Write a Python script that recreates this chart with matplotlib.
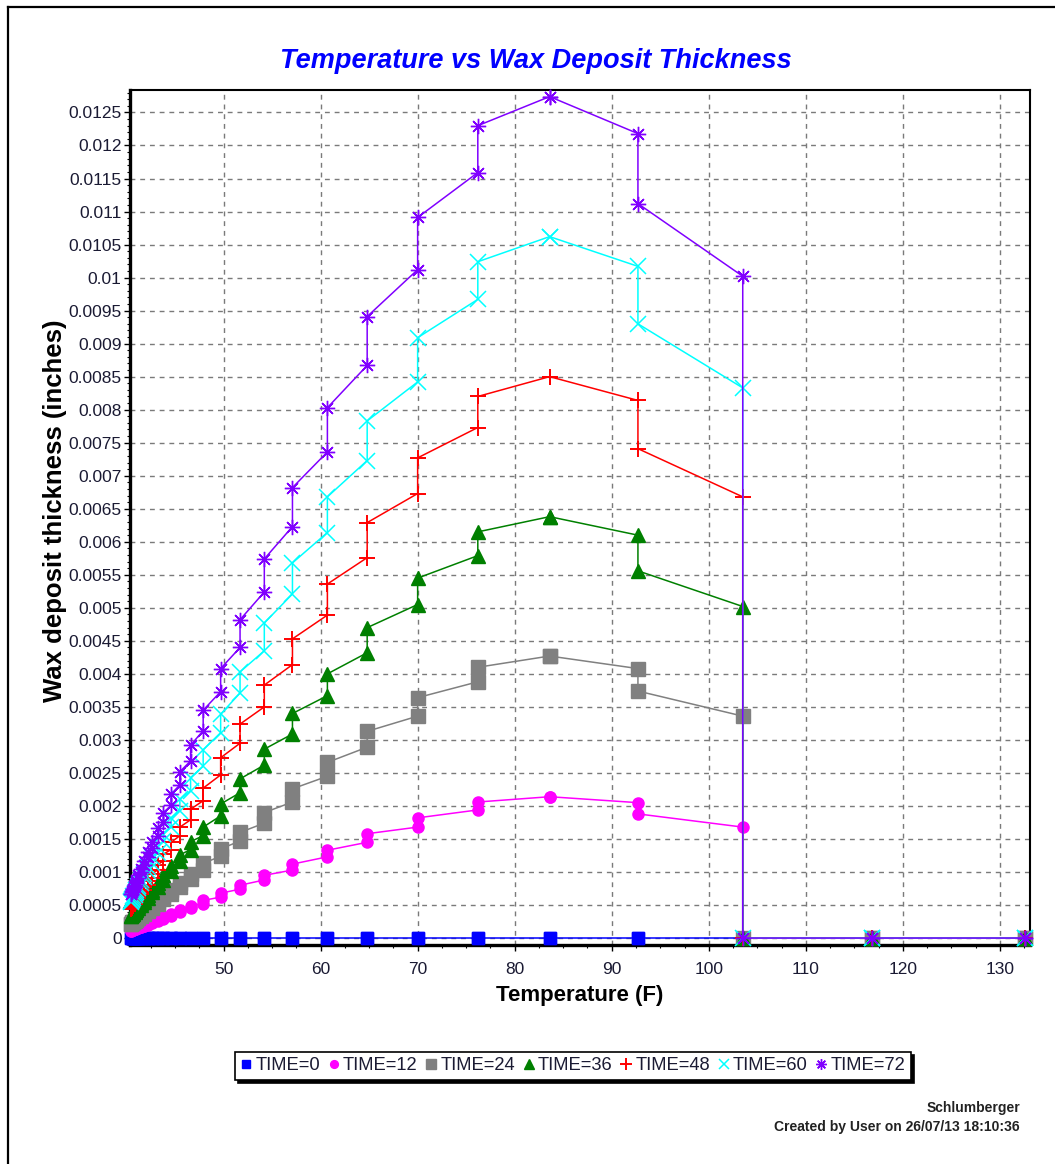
import numpy as np
import matplotlib
matplotlib.use('Agg')
import matplotlib.pyplot as plt
from matplotlib.ticker import MultipleLocator, FuncFormatter
from matplotlib.lines import Line2D

BASE = ['Liberation Sans', 'DejaVu Sans']
plt.rcParams['font.family'] = BASE

# ---------------- data ----------------
temps = [40.45, 40.55, 40.7, 40.85, 41.0, 41.2, 41.5, 41.8, 42.2, 42.6, 43.2, 43.8,
         44.6, 45.5, 46.6, 47.9, 49.7, 51.7, 54.2, 57.1, 60.7, 64.8, 70.0, 76.2,
         83.6, 92.7, 103.5, 116.8, 132.6]

labels = ['TIME=0', 'TIME=12', 'TIME=24', 'TIME=36', 'TIME=48', 'TIME=60', 'TIME=72']

t0_a = [0.0] * 29
t0_b = [0.0] * 29

t12_a = [0.00011, 0.000115, 0.00012, 0.00013, 0.00014, 0.00015, 0.00017, 0.00018, 0.00020,
         0.00023, 0.00026, 0.00029, 0.00034, 0.00039, 0.00045, 0.00052, 0.00062, 0.00074,
         0.00088, 0.00103, 0.00123, 0.00145, 0.00168, 0.00194, 0.00214, 0.00205, 0.00168, 0, 0]
t12_b = [0.00011, 0.00012, 0.000125, 0.000135, 0.000145, 0.00016, 0.000175, 0.00019, 0.00022,
         0.00024, 0.00028, 0.00032, 0.00036, 0.00042, 0.00049, 0.00057, 0.00068, 0.00080,
         0.00095, 0.00112, 0.00133, 0.00158, 0.00182, 0.00206, 0.00214, 0.00188, 0, 0, 0]

t24_a = [0.00022, 0.00023, 0.00024, 0.00026, 0.00028, 0.00030, 0.00033, 0.00037, 0.00041,
         0.00046, 0.00052, 0.00059, 0.00067, 0.00077, 0.00089, 0.00103, 0.00124, 0.00147,
         0.00174, 0.00206, 0.00245, 0.00289, 0.00336, 0.00388, 0.00427, 0.00408, 0.00336, 0, 0]
t24_b = [0.00022, 0.00024, 0.00025, 0.00027, 0.00029, 0.00032, 0.00035, 0.00039, 0.00043,
         0.00049, 0.00055, 0.00063, 0.00073, 0.00084, 0.00097, 0.00113, 0.00135, 0.00160,
         0.00190, 0.00226, 0.00266, 0.00313, 0.00364, 0.00410, 0.00427, 0.00374, 0, 0, 0]

t36_a = [0.00033, 0.00035, 0.00037, 0.00039, 0.00042, 0.00046, 0.00050, 0.00055, 0.00061,
         0.00069, 0.00078, 0.00088, 0.00101, 0.00116, 0.00134, 0.00155, 0.00185, 0.00220,
         0.00262, 0.00309, 0.00367, 0.00432, 0.00505, 0.00579, 0.00638, 0.00610, 0.00502, 0, 0]
t36_b = [0.00034, 0.00036, 0.00038, 0.00041, 0.00044, 0.00048, 0.00053, 0.00058, 0.00065,
         0.00073, 0.00083, 0.00095, 0.00109, 0.00126, 0.00146, 0.00168, 0.00203, 0.00241,
         0.00286, 0.00340, 0.00400, 0.00470, 0.00545, 0.00615, 0.00638, 0.00556, 0, 0, 0]

t48_a = [0.00044, 0.00046, 0.00049, 0.00052, 0.00056, 0.00061, 0.00067, 0.00073, 0.00081,
         0.00091, 0.00103, 0.00117, 0.00134, 0.00155, 0.00179, 0.00208, 0.00247, 0.00295,
         0.00350, 0.00414, 0.00489, 0.00576, 0.00673, 0.00773, 0.00850, 0.00814, 0.00668, 0, 0]
t48_b = [0.00045, 0.00047, 0.00050, 0.00054, 0.00058, 0.00063, 0.00070, 0.00077, 0.00087,
         0.00097, 0.00111, 0.00127, 0.00145, 0.00168, 0.00195, 0.00227, 0.00273, 0.00324,
         0.00383, 0.00453, 0.00536, 0.00629, 0.00727, 0.00820, 0.00850, 0.00741, 0, 0, 0]

t60_a = [0.00055, 0.00058, 0.00061, 0.00065, 0.00070, 0.00076, 0.00083, 0.00092, 0.00102,
         0.00114, 0.00129, 0.00147, 0.00168, 0.00193, 0.00223, 0.00260, 0.00311, 0.00371,
         0.00435, 0.00521, 0.00614, 0.00723, 0.00842, 0.00967, 0.01062, 0.01017, 0.00833, 0, 0]
t60_b = [0.00056, 0.00059, 0.00063, 0.00068, 0.00073, 0.00079, 0.00088, 0.00097, 0.00108,
         0.00122, 0.00138, 0.00158, 0.00182, 0.00210, 0.00243, 0.00285, 0.00339, 0.00403,
         0.00477, 0.00568, 0.00668, 0.00783, 0.00909, 0.01024, 0.01062, 0.00930, 0, 0, 0]

t72_a = [0.00066, 0.00069, 0.00073, 0.00078, 0.00084, 0.00091, 0.00100, 0.00110, 0.00122,
         0.00137, 0.00155, 0.00176, 0.00201, 0.00232, 0.00268, 0.00314, 0.00373, 0.00440,
         0.00524, 0.00623, 0.00736, 0.00867, 0.01012, 0.01159, 0.01274, 0.01218, 0.01002, 0, 0]
t72_b = [0.00067, 0.00071, 0.00075, 0.00081, 0.00087, 0.00095, 0.00105, 0.00116, 0.00130,
         0.00146, 0.00166, 0.00190, 0.00218, 0.00252, 0.00292, 0.00345, 0.00408, 0.00482,
         0.00574, 0.00682, 0.00803, 0.00941, 0.01091, 0.01230, 0.01274, 0.01112, 0, 0, 0]

series_a = [t0_a, t12_a, t24_a, t36_a, t48_a, t60_a, t72_a]
series_b = [t0_b, t12_b, t24_b, t36_b, t48_b, t60_b, t72_b]

# ---------------- styles ----------------
colors = ['#0000ff', '#ff00ff', '#808080', '#008000', '#ff0000', '#00ffff', '#8000ff']
markers = ['s', 'o', 's', '^', '+', 'x', (8, 2, 0)]
msizes = [8.6, 8.0, 9.5, 9.5, 12, 11, 11]
mews = [1, 1, 1, 1, 1.4, 1.1, 1.0]

W, H = 1055, 1164
fig = plt.figure(figsize=(W / 100, H / 100), dpi=100)
ax = fig.add_axes([130 / W, 1 - 945 / H, 900 / W, 855 / H])

x_path = np.repeat(np.array(temps), 2)
handles = []
for i in range(7):
    y_path = np.column_stack([series_a[i], series_b[i]]).ravel()
    ax.plot(x_path, y_path, color=colors[i], lw=1.1, marker=markers[i],
            ms=msizes[i], mew=mews[i], mfc=colors[i], mec=colors[i],
            zorder=3 + i, clip_on=False)
    handles.append(Line2D([], [], ls='none', marker=markers[i], color=colors[i],
                          ms=msizes[i] * 0.7, mew=mews[i], mfc=colors[i], mec=colors[i]))

ax.set_xlim(40.36, 133.1)
ax.set_ylim(-0.000105, 0.01284)

ax.xaxis.set_major_locator(MultipleLocator(10))
ax.xaxis.set_minor_locator(MultipleLocator(2.5))
ax.yaxis.set_major_locator(MultipleLocator(0.0005))
ax.yaxis.set_minor_locator(MultipleLocator(0.0001))
ax.yaxis.set_major_formatter(FuncFormatter(lambda v, p: '{:g}'.format(round(v, 6))))

ax.grid(True, which='major', ls=(0, (3.5, 3.5)), color='#7a7a7a', lw=1.0)
ax.set_axisbelow(True)

ax.tick_params(which='major', direction='out', length=4, width=1, labelsize=12.5,
               pad=2, colors='black', labelcolor='#1a1a33')
ax.tick_params(which='minor', direction='out', length=2.5, width=0.8)
ax.tick_params(axis='x', pad=8)

for side in ['left', 'bottom']:
    ax.spines[side].set_linewidth(2.4)
for side in ['top', 'right']:
    ax.spines[side].set_linewidth(1.5)

ax.set_xlabel('Temperature (F)', fontsize=16, fontweight='bold', labelpad=6)
fig.text(55 / W, 1 - 511 / H, 'Wax deposit thickness (inches)', rotation=90,
         ha='center', va='center', fontsize=18.5, fontweight='bold')

fig.text(536 / W, 1 - 61 / H, 'Temperature vs Wax Deposit Thickness', ha='center',
         va='center', color='#0000ff', fontsize=19.5, fontweight='bold', style='italic')

leg = fig.legend(handles, labels, loc='center', bbox_to_anchor=(573 / W, 1 - 1066 / H),
                 ncol=7, frameon=True, fancybox=False, edgecolor='black',
                 shadow={'color': 'black', 'alpha': 1.0}, fontsize=13.2,
                 handlelength=0.6, handletextpad=0.2, columnspacing=0.45,
                 borderpad=0.3, borderaxespad=0)
leg.get_frame().set_linewidth(1.2)
for t in leg.get_texts():
    t.set_color('#1a1a33')

fig.text(1020 / W, 1 - 1108 / H, 'Schlumberger', ha='right', va='center',
         fontsize=10, fontweight='bold', color='#222222')
fig.text(1020 / W, 1 - 1127 / H, 'Created by User on 26/07/13 18:10:36', ha='right',
         va='center', fontsize=10, fontweight='bold', color='#222222')

fig.add_artist(Line2D([8 / W, 8 / W], [0, 1 - 7 / H], transform=fig.transFigure,
                      color='black', lw=1.6))
fig.add_artist(Line2D([8 / W, 1], [1 - 7 / H, 1 - 7 / H], transform=fig.transFigure,
                      color='black', lw=1.6))

fig.savefig('out.png', dpi=100)
